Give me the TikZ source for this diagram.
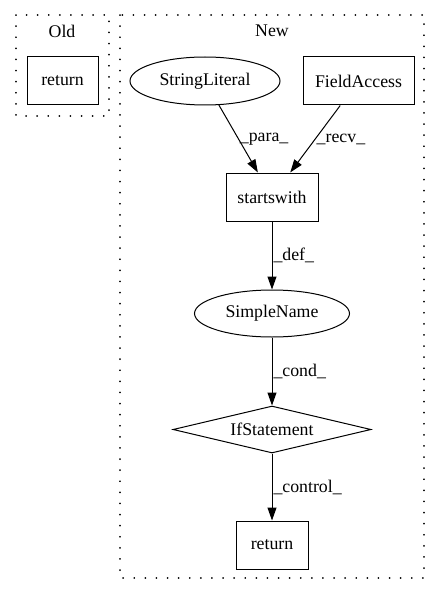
\documentclass[tikz,border=0pt]{standalone}
\usepackage{fontspec}
\setmainfont{Liberation Serif}
\usetikzlibrary{arrows.meta}
\usetikzlibrary{quotes}
\usetikzlibrary{shapes.geometric}

\begin{document}
\begin{tikzpicture}[x=1pt,y=-1pt,line width=1pt,font=\fontsize{17.8}{20}\selectfont,
  every edge quotes/.style={anchor=west,inner sep=1pt,font=\fontsize{17.8}{20}\selectfont},
  every edge/.style={draw,-{Triangle[length=13pt,width=9pt]}},
  box/.style={draw,rectangle,inner sep=0pt,minimum height=48pt},
  oval/.style={draw,ellipse,inner sep=0pt,minimum height=48pt},
  cluster/.style={line cap=round,dash pattern=on 0.1pt off 11pt,line width=1.8pt}]
\useasboundingbox (0,0) rectangle (441,596);
\draw[cluster] (16,15) rectangle (109,116);
\draw[cluster] (120,15) rectangle (424,578);
\node (oldtitle) at (62,31) {Old};
\node (newtitle) at (272,31) {New};
\node[box,minimum width=71pt] (oldret) at (62.5,81) {return};
\node[oval,minimum width=150pt] (strlit) at (205,81) {StringLiteral};
\node[box,minimum width=111pt] (field) at (358.5,81) {FieldAccess};
\node[box,minimum width=92pt] (starts) at (272,197) {startswith};
\node[oval,minimum width=155pt,minimum height=47pt] (sname) at (272,313.5) {SimpleName};
\node[diamond,draw,inner sep=0pt,aspect=4.2,minimum width=198pt,minimum height=47pt] (ifst) at (272,429.5) {IfStatement};
\node[box,minimum width=72pt] (newret) at (272,545) {return};
\draw (strlit) edge["\_para\_"] (starts) ;
\draw (field) edge["\_recv\_"] (starts) ;
\draw (starts) edge["\_def\_"] (sname) ;
\draw (sname) edge["\_cond\_"] (ifst) ;
\draw (ifst) edge["\_control\_"] (newret) ;
\end{tikzpicture}
\end{document}
